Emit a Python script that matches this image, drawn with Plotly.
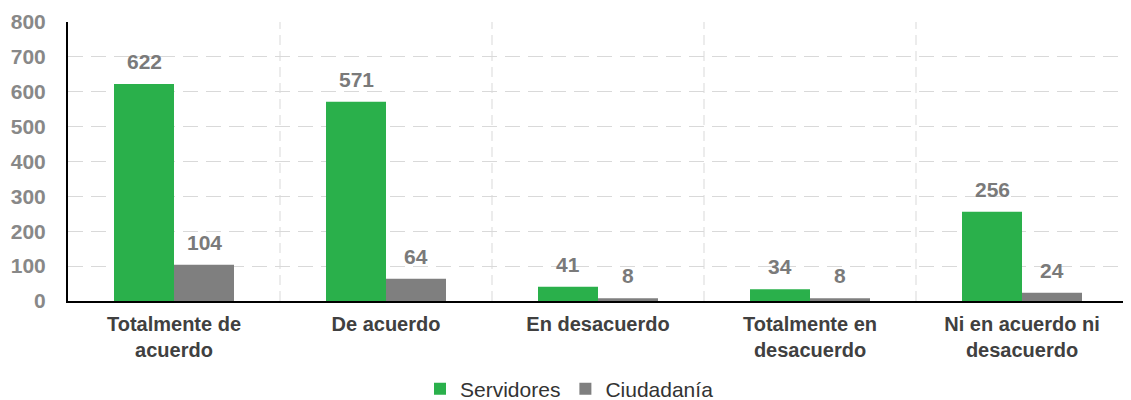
import plotly.graph_objects as go

categories = ["Totalmente de<br>acuerdo", "De acuerdo", "En desacuerdo",
              "Totalmente en<br>desacuerdo", "Ni en acuerdo ni<br>desacuerdo"]
servidores = [622, 571, 41, 34, 256]
ciudadania = [104, 64, 8, 8, 24]
y_ticks = [0, 100, 200, 300, 400, 500, 600, 700, 800]

GREEN = "#2AB04B"
GRAY = "#7F7F7F"
FONT = "Liberation Sans, Arial, sans-serif"

fig = go.Figure()
fig.add_trace(go.Bar(name="Servidores", x=categories, y=servidores,
                     marker=dict(color=GREEN, line=dict(width=0))))
fig.add_trace(go.Bar(name="Ciudadanía", x=categories, y=ciudadania,
                     marker=dict(color=GRAY, line=dict(width=0))))

# data labels
for vals, shift in ((servidores, -30), (ciudadania, 30)):
    for c, v in zip(categories, vals):
        fig.add_annotation(x=c, y=v, xref="x", yref="y", text=str(v),
                           showarrow=False, xshift=shift, yshift=9,
                           yanchor="bottom",
                           font=dict(family=FONT, size=21, color="#7A7A7A", weight="bold"))

# vertical dashed separators between categories
for i in range(len(categories)):
    fig.add_shape(type="line", xref="x", yref="paper", x0=i + 0.5, x1=i + 0.5,
                  y0=0, y1=1, line=dict(color="#D9D9D9", width=1, dash="10px,6px"),
                  layer="below")

fig.update_layout(
    width=1123, height=392,
    margin=dict(l=60, r=3, t=13.5, b=98.5),
    paper_bgcolor="white", plot_bgcolor="white",
    barmode="group", bargap=0.434, bargroupgap=0,
    font=dict(family=FONT),
    showlegend=True,
    legend=dict(orientation="h", xref="container", yref="container",
                x=0.5, xanchor="center", y=0.028, yanchor="middle",
                font=dict(family=FONT, size=21, color="#333333"),
                itemwidth=30, traceorder="normal"),
)
fig.update_xaxes(
    showline=True, linecolor="black", linewidth=2, automargin=False,
    showgrid=False, ticks="", tickfont=dict(family=FONT, size=20, color="#404040", weight="bold"),
    ticklabelstandoff=4, range=[-0.5, 4.5],
)
fig.update_yaxes(
    range=[0, 800], tickvals=y_ticks, automargin=False,
    showline=True, linecolor="black", linewidth=2,
    showgrid=True, gridcolor="#D9D9D9", gridwidth=1, griddash="15px,8px",
    zeroline=False, ticks="",
    tickfont=dict(family=FONT, size=21, color="#888888", weight="bold"),
    ticklabelstandoff=16,
)

fig.write_html("out.html")
